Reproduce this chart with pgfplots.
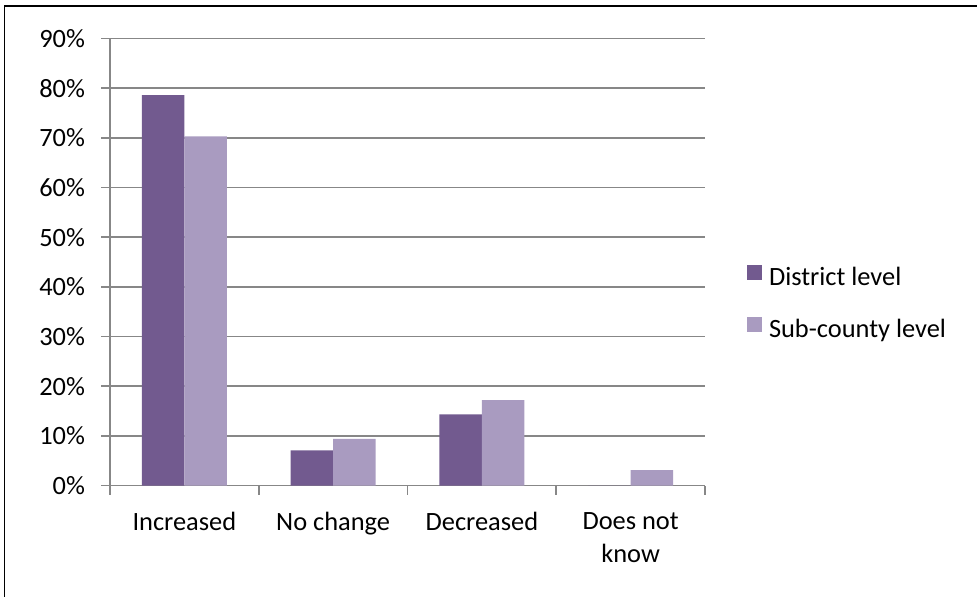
\documentclass[border=0pt]{standalone}
\usepackage{pgfplots}
\pgfplotsset{compat=1.18}
\usepackage{fontspec}
\setmainfont{Carlito}
\definecolor{district}{HTML}{725A8F}
\definecolor{subcounty}{HTML}{A99BC0}
\definecolor{gridgray}{HTML}{878787}

\begin{document}
\begin{tikzpicture}[font=\fontsize{13.2}{16.5}\selectfont]
\begin{axis}[
  at={(55pt,-242.75pt)}, anchor=south west,
  scale only axis, width=297.5pt, height=223.5pt,
  ybar=0pt, bar width=21.25pt,
  xmin=-0.5, xmax=3.5, ymin=0, ymax=90,
  xtick={-0.5,0.5,1.5,2.5,3.5},
  x tick label as interval,
  xticklabels={Increased, No change, Decreased, {Does not\\know}},
  xticklabel style={align=center, yshift=-5.5pt},
  ytick={0,10,...,90},
  yticklabel={\pgfmathprintnumber{\tick}\%},
  yticklabel style={xshift=-4.5pt},
  /pgf/number format/assume math mode=true,
  ymajorgrids, grid style={gridgray, line width=0.9pt},
  axis x line*=bottom, axis y line*=left,
  axis line style={gridgray, line width=0.9pt},
  tick style={gridgray, line width=0.9pt},
  tick align=outside, major tick length=4.5pt,
  legend style={draw=none, fill=none, inner sep=0pt, outer sep=0pt,
    at={(1.0706,0.4933)}, anchor=north west,
    row sep=13.25pt, column sep=3.5pt,
    nodes={inner sep=0pt, text height=8pt, text depth=2.5pt}},
  legend cell align=left,
]
\addplot[fill=district, draw=none,
  legend image code/.code={\fill[district] (0pt,0pt) rectangle (7.5pt,7.5pt);}]
  coordinates {(0,78.6) (1,7.1) (2,14.3) (3,0)};
\addplot[fill=subcounty, draw=none,
  legend image code/.code={\fill[subcounty] (0pt,0pt) rectangle (7.5pt,7.5pt);}]
  coordinates {(0,70.3) (1,9.4) (2,17.2) (3,3.1)};
\legend{District level, Sub-county level}
\end{axis}
% chart frame, running past the visible page on the right and bottom
\draw[black, line width=0.75pt] (2.25pt,-3pt) rectangle (520pt,-330pt);
\pgfresetboundingbox
\path[use as bounding box] (0pt,0pt) rectangle (488.5pt,-298pt);
\end{tikzpicture}
\end{document}
